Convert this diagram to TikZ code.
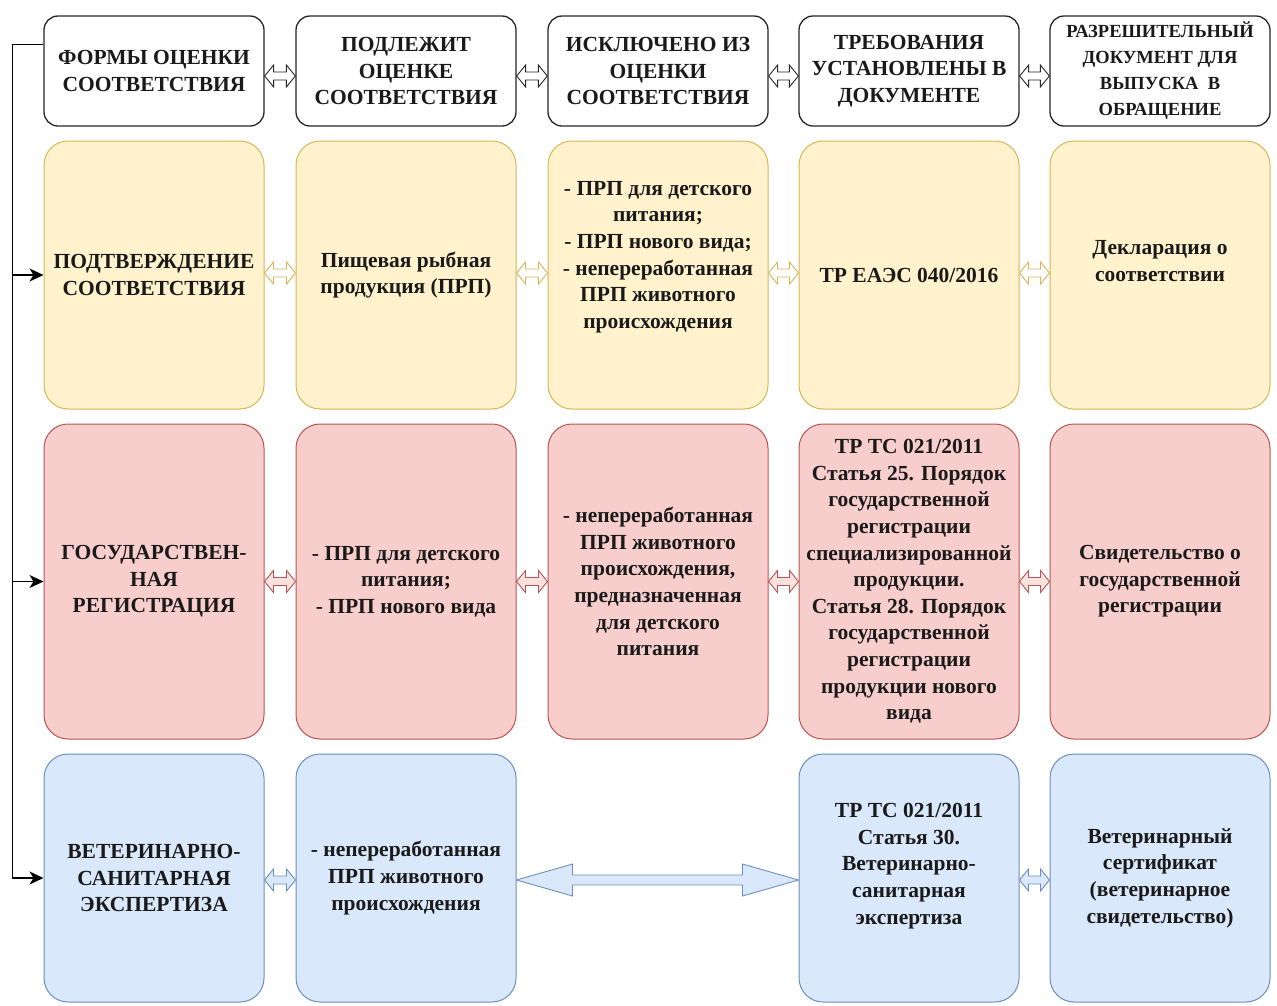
\documentclass[tikz,border=0pt]{standalone}
\usepackage{fontspec}
\setmainfont{Liberation Serif}
\usetikzlibrary{calc,arrows.meta}
\definecolor{yfill}{HTML}{FFF2CC}
\definecolor{ystroke}{HTML}{D6B656}
\definecolor{rfill}{HTML}{F8CECC}
\definecolor{rstroke}{HTML}{B85450}
\definecolor{bfill}{HTML}{DAE8FC}
\definecolor{bstroke}{HTML}{6C8EBF}
\definecolor{txt}{HTML}{1A1A1A}
\newcommand\flexarr[7]{%
  \draw[#1] let \p1=($(#2.east)+(0,#4)$), \p2=($(#3.west)+(0,#4)$) in
   (\x1,\y1) -- (\x1+#5pt,\y1+#6pt) -- (\x1+#5pt,\y1+#7pt) -- (\x2-#5pt,\y1+#7pt)
   -- (\x2-#5pt,\y1+#6pt) -- (\x2,\y1) -- (\x2-#5pt,\y1-#6pt) -- (\x2-#5pt,\y1-#7pt)
   -- (\x1+#5pt,\y1-#7pt) -- (\x1+#5pt,\y1-#6pt) -- cycle;}
\tikzset{
  lbl/.style={align=center, inner sep=0pt, text=txt, font=\bfseries\fontsize{21.5}{26.6}\selectfont},
  box/.style={lbl, draw, rounded corners=24pt, minimum width=220pt, inner xsep=1pt},
  hbox/.style={box, rounded corners=14pt, draw=black!85, line width=1.3pt, fill=white, minimum height=110pt},
  ybox/.style={box, fill=yfill, draw=ystroke, line width=1pt, minimum height=268pt},
  rbox/.style={box, fill=rfill, draw=rstroke, line width=1pt, minimum height=315pt},
  bbox/.style={box, fill=bfill, draw=bstroke, line width=1pt, minimum height=248pt},
  harr/.style={draw=black!85, fill=white, line width=0.9pt, line join=miter},
  yarr/.style={draw=ystroke, fill=white, line width=0.9pt},
  rarr/.style={draw=rstroke, fill=rfill!60, line width=0.9pt},
  barr/.style={draw=bstroke, fill=bfill, line width=0.9pt},
  conn/.style={draw=black, line width=1.3pt, -{Stealth[length=14pt,width=13pt,inset=4pt]}},
}
\begin{document}
\begin{tikzpicture}[x=1pt,y=-1pt]
\useasboundingbox (0,0) rectangle (1277,1005);
% header row
\node[hbox] (h1) at (154,71) {ФОРМЫ ОЦЕНКИ\\СООТВЕТСТВИЯ};
\node[hbox] (h2) at (406,71) {ПОДЛЕЖИТ\\ОЦЕНКЕ\\СООТВЕТСТВИЯ};
\node[hbox] (h3) at (658,71) {ИСКЛЮЧЕНО ИЗ\\ОЦЕНКИ\\СООТВЕТСТВИЯ};
\node[hbox] (h4) at (909,71) {ТРЕБОВАНИЯ\\УСТАНОВЛЕНЫ В\\ДОКУМЕНТЕ};
\node[hbox, font=\bfseries\fontsize{18.5}{26}\selectfont] (h5) at (1160,71) {РАЗРЕШИТЕЛЬНЫЙ\\ДОКУМЕНТ ДЛЯ\\ВЫПУСКА~~В\\ОБРАЩЕНИЕ};
% yellow row
\node[ybox] (y1) at (154,275) {ПОДТВЕРЖДЕНИЕ\\СООТВЕТСТВИЯ};
\node[ybox] (y2) at (406,275) {Пищевая рыбная\\продукция (ПРП)};
\node[ybox] (y3) at (658,275) {};
\node[lbl] (y3t) at ($(y3)+(0,-18)$) {- ПРП для детского\\питания;\\- ПРП нового вида;\\- непереработанная\\ПРП животного\\происхождения};
\node[ybox] (y4) at (909,275) {ТР ЕАЭС 040/2016};
\node[ybox] (y5) at (1160,275) {};
\node[lbl] (y5t) at ($(y5)+(0,-14)$) {Декларация о\\соответствии};
% red row
\node[rbox] (r1) at (154,581.5) {ГОСУДАРСТВЕН-\\НАЯ\\РЕГИСТРАЦИЯ};
\node[rbox] (r2) at (406,581.5) {- ПРП для детского\\питания;\\- ПРП нового вида};
\node[rbox] (r3) at (658,581.5) {- непереработанная\\ПРП животного\\происхождения,\\предназначенная\\для детского\\питания};
\node[rbox] (r4) at (909,581.5) {ТР ТС 021/2011\\Статья 25. Порядок\\государственной\\регистрации\\специализированной\\продукции.\\Статья 28. Порядок\\государственной\\регистрации\\продукции нового\\вида};
\node[rbox] (r5) at (1160,581.5) {Свидетельство о\\государственной\\регистрации};
% blue row
\node[bbox] (b1) at (154,878) {ВЕТЕРИНАРНО-\\САНИТАРНАЯ\\ЭКСПЕРТИЗА};
\node[bbox] (b2) at (406,878) {- непереработанная\\ПРП животного\\происхождения};
\node[bbox] (b4) at (909,878) {};
\node[lbl] (b4t) at ($(b4)+(0,-12)$) {ТР ТС 021/2011\\Статья 30.\\Ветеринарно-\\санитарная\\экспертиза};
\node[bbox] (b5) at (1160,878) {Ветеринарный\\сертификат\\(ветеринарное\\свидетельство)};
% small double arrows
\flexarr{harr}{h1}{h2}{5}{9}{11}{4}
\flexarr{harr}{h2}{h3}{5}{9}{11}{4}
\flexarr{harr}{h3}{h4}{5}{9}{11}{4}
\flexarr{harr}{h4}{h5}{5}{9}{11}{4}
\flexarr{yarr}{y1}{y2}{-2}{9}{11}{4}
\flexarr{yarr}{y2}{y3}{-2}{9}{11}{4}
\flexarr{yarr}{y3}{y4}{-2}{9}{11}{4}
\flexarr{yarr}{y4}{y5}{-2}{9}{11}{4}
\flexarr{rarr}{r1}{r2}{0}{9}{11}{4}
\flexarr{rarr}{r2}{r3}{0}{9}{11}{4}
\flexarr{rarr}{r3}{r4}{0}{9}{11}{4}
\flexarr{rarr}{r4}{r5}{0}{9}{11}{4}
\flexarr{barr}{b1}{b2}{2}{9}{11}{4}
\flexarr{barr}{b2}{b4}{2}{56}{16}{5}
\flexarr{barr}{b4}{b5}{2}{9}{11}{4}
% left connectors
\draw[conn] ($(h1.north west)+(0,29)$) -- ++(-31,0) |- (y1.west);
\draw[conn] ($(h1.north west)+(0,29)$) -- ++(-31,0) |- (r1.west);
\draw[conn] ($(h1.north west)+(0,29)$) -- ++(-31,0) |- (b1.west);
\end{tikzpicture}
\end{document}
